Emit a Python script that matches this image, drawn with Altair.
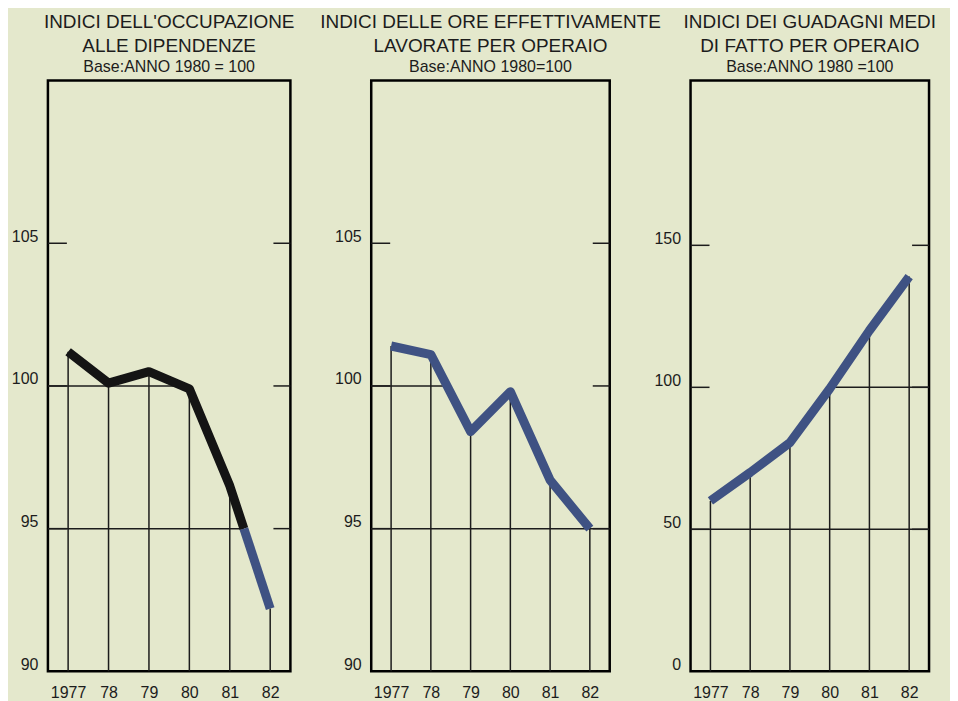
import altair as alt
import pandas as pd

# ---- data ----
years = [1977, 1978, 1979, 1980, 1981, 1982]
year_labels = ["1977", "78", "79", "80", "81", "82"]

occupazione = [101.2, 100.1, 100.5, 99.9, 96.5, 92.2]
ore_lavorate = [101.4, 101.1, 98.4, 99.8, 96.7, 95.0]
guadagni = [60.0, 70.0, 80.5, 99.5, 120.0, 139.0]

ticks_12 = [90, 95, 100, 105]
ticks_3 = [0, 50, 100, 150]

titles = [
    ["INDICI DELL'OCCUPAZIONE", "ALLE DIPENDENZE"],
    ["INDICI DELLE ORE EFFETTIVAMENTE", "LAVORATE PER OPERAIO"],
    ["INDICI DEI GUADAGNI MEDI", "DI FATTO PER OPERAIO"],
]
subtitles = ["Base:ANNO 1980 = 100", "Base:ANNO 1980=100", "Base:ANNO 1980 =100"]

# ---- style ----
BG = "#e4e8cc"
INK = "#1c1c1c"
BLUE = "#3f5283"
FONT = "Liberation Sans"
XMIN, XMAX = 1976.5, 1982.5
HEIGHT = 592
WIDTHS = [243, 239, 239]


def label_expr(values, labels):
    expr = "''"
    for v, l in reversed(list(zip(values, labels))):
        expr = f"datum.value == {v} ? '{l}' : ({expr})"
    return expr


def segments_above(xs, vs, level):
    pts = [(XMIN, vs[0])] + list(zip(xs, vs)) + [(XMAX, vs[-1])]
    segs, start = [], None
    for i, (x, v) in enumerate(pts):
        if i == 0:
            if v >= level:
                start = x
            continue
        x0, v0 = pts[i - 1]
        a0, a1 = v0 >= level, v >= level
        if a0 and not a1:
            xc = x0 + (v0 - level) / (v0 - v) * (x - x0)
            segs.append((start, xc))
            start = None
        elif a1 and not a0:
            start = x0 + (level - v0) / (v - v0) * (x - x0)
    if start is not None:
        segs.append((start, XMAX))
    return segs


def panel(values, ticks, ydom, width, title, subtitle, split_level=None):
    xscale = alt.Scale(domain=[XMIN, XMAX], nice=False, zero=False)
    yscale = alt.Scale(domain=ydom, nice=False, zero=False)
    xaxis = alt.Axis(values=years, labelExpr=label_expr(years, year_labels),
                     labelFontSize=16, labelFont=FONT, labelColor=INK,
                     labelPadding=13, ticks=False, domain=False, grid=False,
                     title=None, labelFlush=False, labelOverlap=False)
    yaxis = alt.Axis(values=ticks, format="d", labelFontSize=16, labelFont=FONT,
                     labelColor=INK, labelPadding=10, ticks=False, domain=False,
                     grid=False, title=None, labelFlush=False, labelOverlap=False,
                     labelOffset=-7)

    # grid segments below the curve
    rows = []
    for lv in ticks[1:]:
        for a, b in segments_above(years, values, lv):
            rows.append({"x": a, "x2": b, "y": lv})
    grid_df = pd.DataFrame(rows, columns=["x", "x2", "y"])
    grid = alt.Chart(grid_df).mark_rule(color=INK, strokeWidth=1.5).encode(
        x=alt.X("x:Q", scale=xscale, axis=xaxis),
        x2="x2:Q",
        y=alt.Y("y:Q", scale=yscale, axis=yaxis),
    )

    tick_df = pd.DataFrame({"y": ticks[1:]})
    tick_l = alt.Chart(tick_df).mark_rule(color=INK, strokeWidth=1.5).encode(
        y=alt.Y("y:Q", scale=yscale, axis=yaxis),
        x=alt.value(0), x2=alt.value(19),
    )
    tick_r = alt.Chart(tick_df).mark_rule(color=INK, strokeWidth=1.5).encode(
        y=alt.Y("y:Q", scale=yscale, axis=yaxis),
        x=alt.value(width - 17), x2=alt.value(width),
    )

    df = pd.DataFrame({"year": years, "v": values, "base": [ydom[0]] * len(years)})
    stems = alt.Chart(df).mark_rule(color=INK, strokeWidth=1.5).encode(
        x=alt.X("year:Q", scale=xscale, axis=xaxis),
        y=alt.Y("v:Q", scale=yscale, axis=yaxis),
        y2="base:Q",
    )

    layers = [grid, tick_l, tick_r, stems]
    if split_level is not None:
        # black part down to the crossing of split_level, blue afterwards
        k = next(i for i in range(1, len(values)) if values[i] < split_level)
        t = (values[k - 1] - split_level) / (values[k - 1] - values[k])
        xc = years[k - 1] + t * (years[k] - years[k - 1])
        black_df = pd.DataFrame({"year": years[:k] + [xc], "v": values[:k] + [split_level]})
        blue_df = pd.DataFrame({"year": [xc] + years[k:], "v": [split_level] + values[k:]})
        for d, c in [(black_df, "#141414"), (blue_df, BLUE)]:
            layers.append(alt.Chart(d).mark_line(color=c, strokeWidth=9,
                                                 strokeJoin="round", strokeCap="butt").encode(
                x=alt.X("year:Q", scale=xscale, axis=xaxis),
                y=alt.Y("v:Q", scale=yscale, axis=yaxis),
            ))
    else:
        layers.append(alt.Chart(df).mark_line(color=BLUE, strokeWidth=9,
                                              strokeJoin="round", strokeCap="butt").encode(
            x=alt.X("year:Q", scale=xscale, axis=xaxis),
            y=alt.Y("v:Q", scale=yscale, axis=yaxis),
        ))

    return alt.layer(*layers).properties(
        width=width, height=HEIGHT,
        title=alt.TitleParams(text=title, subtitle=subtitle, fontSize=19, font=FONT,
                              fontWeight="normal", color=INK, lineHeight=24,
                              subtitleFont=FONT, subtitleFontSize=16,
                              subtitleColor=INK, subtitlePadding=3, offset=6,
                              anchor="middle"),
    )


p1 = panel(occupazione, ticks_12, [90, 110.7], WIDTHS[0], titles[0], subtitles[0], split_level=95)
p2 = panel(ore_lavorate, ticks_12, [90, 110.7], WIDTHS[1], titles[1], subtitles[1])
p3 = panel(guadagni, ticks_3, [0, 208], WIDTHS[2], titles[2], subtitles[2])

chart = alt.hconcat(p1, p2, p3, spacing=81, bounds="flush").configure(
    background=BG, padding={"left": 2, "top": 2, "right": 12, "bottom": 2}
).configure_view(stroke="black", strokeWidth=2.5)

chart.save("out.html", embed_options={"renderer": "svg", "actions": False})
